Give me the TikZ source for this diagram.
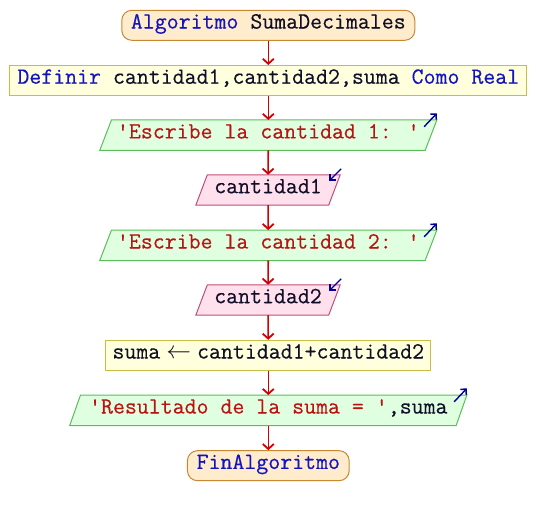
\documentclass[tikz,border=0pt]{standalone}
\usepackage{fontspec}
\newfontfamily\pseifont{Latin Modern Mono}[FakeBold=0.4]
\usetikzlibrary{arrows.meta,calc}
\definecolor{kwblue}{RGB}{20,20,190}
\definecolor{strred}{RGB}{185,20,20}
\definecolor{idtext}{RGB}{15,15,40}
\definecolor{termfill}{RGB}{255,236,204}
\definecolor{termdraw}{RGB}{200,135,50}
\definecolor{procfill}{RGB}{255,255,221}
\definecolor{procdraw}{RGB}{200,190,70}
\definecolor{outfill}{RGB}{224,255,224}
\definecolor{outdraw}{RGB}{90,190,90}
\definecolor{infill}{RGB}{255,224,236}
\definecolor{indraw}{RGB}{190,80,120}
\definecolor{flowred}{RGB}{210,0,0}
\definecolor{ioblue}{RGB}{0,0,150}
\begin{document}
\begin{tikzpicture}[x=1bp,y=-1bp,
  every node/.style={font=\pseifont\fontsize{23.2bp}{25bp}\selectfont, color=idtext, inner sep=0pt, minimum height=30bp, text height=0.72em, text depth=0.07em},
  term/.style={draw=termdraw, fill=termfill, line width=1bp, rounded corners=10bp},
  proc/.style={draw=procdraw, fill=procfill, line width=1bp},
  io/.style={},
  flow/.style={draw=flowred, line width=1.6bp, -{Straight Barb[length=5bp,width=11bp,line width=1.8bp]}},
  ioarrow/.style={draw=ioblue, line width=1.4bp, -{Straight Barb[length=4bp,width=8bp,line width=1.5bp]}},
]
\useasboundingbox (0,0) rectangle (536,515);
\def\cx{268.3}
\path (\cx,135.2) coordinate (c1) (268,190) coordinate (c2) (\cx,245.3) coordinate (c3) (268,300) coordinate (c4) (\cx,410.3) coordinate (c5);
\node[term, minimum width=293bp] (start) at (\cx,25.3) {\textcolor{kwblue}{Algoritmo} SumaDecimales};
\node[proc, minimum width=516.7bp] (def) at (\cx,80.5) {\textcolor{kwblue}{Definir} cantidad1,cantidad2,suma \textcolor{kwblue}{Como Real}};
\node[io, minimum width=336.7bp] (out1) at (c1) {};
\node[io, minimum width=144bp] (in1) at (c2) {};
\node[io, minimum width=336.7bp] (out2) at (c3) {};
\node[io, minimum width=144bp] (in2) at (c4) {};
\node[proc, minimum width=324.7bp] (asg) at (\cx,355.3) {suma\kern6bp$\leftarrow$\kern6bp cantidad1+cantidad2};
\node[io, minimum width=396.7bp] (out3) at (c5) {};
\node[term, minimum width=161.7bp] (fin) at (\cx,465.7) {\textcolor{kwblue}{FinAlgoritmo}};
\foreach \n/\s in {out1/11.7,out2/11.7,out3/10.7}{
  \filldraw[draw=outdraw, fill=outfill, line width=1bp]
    (\n.south west) -- ([xshift=-\s bp]\n.south east) -- (\n.north east) -- ([xshift=\s bp]\n.north west) -- cycle;
  \draw[ioarrow] ($(\n.north east)+(-12.7,6.7)$) -- ($(\n.north east)+(0,-6.7)$);
}
\foreach \n in {in1,in2}{
  \filldraw[draw=indraw, fill=infill, line width=1bp]
    (\n.south west) -- ([xshift=-11.5bp]\n.south east) -- (\n.north east) -- ([xshift=11.5bp]\n.north west) -- cycle;
  \draw[ioarrow] ($(\n.north east)+(1,-6)$) -- ($(\n.north east)+(-11,6)$);
}
\node (t1) at (out1) {\textcolor{strred}{'Escribe la cantidad 1: '}};
\node (t2) at (in1) {cantidad1};
\node (t3) at (out2) {\textcolor{strred}{'Escribe la cantidad 2: '}};
\node (t4) at (in2) {cantidad2};
\node (t5) at (out3) {\textcolor{strred}{'Resultado de la suma = '},suma};
\draw[flow] (start) -- (def);
\draw[flow] (def) -- (out1);
\draw[flow] (out1) -- (in1);
\draw[flow] (in1) -- (out2);
\draw[flow] (out2) -- (in2);
\draw[flow] (in2) -- (asg);
\draw[flow] (asg) -- (out3);
\draw[flow] (out3) -- (fin);
\end{tikzpicture}
\end{document}
